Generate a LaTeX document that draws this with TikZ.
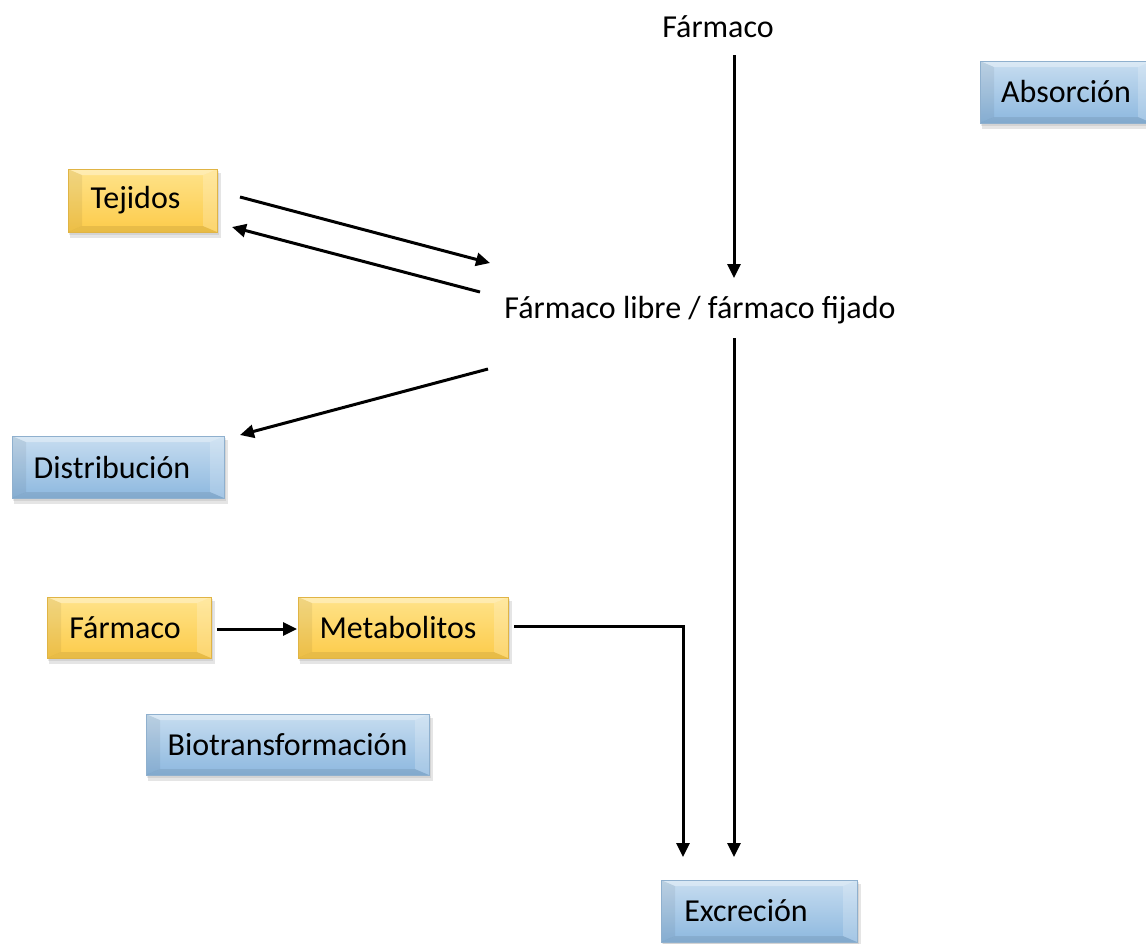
\documentclass[tikz,border=0pt]{standalone}
\usepackage{fontspec}
\setmainfont{Carlito}
\usetikzlibrary{arrows.meta,calc}
\definecolor{Ytop}{HTML}{FFE38A}
\definecolor{Ybot}{HTML}{FCCB4A}
\definecolor{Yedge}{HTML}{E0B445}
\definecolor{Btop}{HTML}{C7DDF0}
\definecolor{Bbot}{HTML}{8DB8DF}
\definecolor{Bedge}{HTML}{8FB0CE}
\tikzset{
  x=1pt,y=-1pt,
  lbl/.style={font=\fontsize{32}{38}\selectfont, inner sep=0pt},
  conn/.style={line width=3pt, -{Triangle[length=14pt,width=13pt]}},
}
% name, x1, y1, x2, y2, colour prefix (Y/B), text, text x-shift
\newcommand\bevbox[8]{%
  \fill[black, opacity=0.10] (#2+2,#3+4) rectangle (#4+4,#5+6);
  \fill[black, opacity=0.08] (#2+1,#3+2) rectangle (#4+2,#5+3);
  \shade[top color=#6top, bottom color=#6bot] (#2,#3) rectangle (#4,#5);
  \fill[white, opacity=0.35] (#2,#3) -- (#4,#3) -- (#4-14,#3+6) -- (#2+14,#3+6) -- cycle;
  \fill[black, opacity=0.06] (#2,#3) -- (#2+14,#3+6) -- (#2+14,#5-6) -- (#2,#5) -- cycle;
  \fill[white, opacity=0.20] (#4,#3) -- (#4-14,#3+6) -- (#4-14,#5-6) -- (#4,#5) -- cycle;
  \fill[black, opacity=0.08] (#2,#5) -- (#2+14,#5-6) -- (#4-14,#5-6) -- (#4,#5) -- cycle;
  \draw[#6edge, line width=0.8pt] (#2,#3) rectangle (#4,#5);
  \node[lbl, xshift=#8pt] (#1) at ($(#2,#3)!0.5!(#4,#5)$) {#7};
}
\begin{document}
\begin{tikzpicture}
\useasboundingbox (0,0) rectangle (1146,943);
\begin{scope}
\clip (0,0) rectangle (1146,943);
\bevbox{absorcion}{980}{61}{1152}{123}{B}{Absorción}{0}
\end{scope}
\bevbox{tejidos}{68}{169}{217}{232}{Y}{Tejidos}{-7}
\bevbox{distribucion}{12}{436}{224}{498}{B}{Distribución}{-6}
\bevbox{farmacoY}{47}{597}{211}{658}{Y}{Fármaco}{-4}
\bevbox{metabolitos}{298}{597}{508}{658}{Y}{Metabolitos}{-5}
\bevbox{biotrans}{146}{714}{429}{775}{B}{Biotransformación}{0}
\bevbox{excrecion}{661}{880}{857}{942}{B}{Excreción}{-13}

\node[lbl] (farmaco) at (718,27) {Fármaco};
\node[lbl] (libre) at (700,310) {Fármaco libre / fármaco fijado};

\coordinate (a1) at (734,55);
\coordinate (a2) at (734,278);
\coordinate (b1) at (734,338);
\coordinate (b2) at (734,857);
\coordinate (t1) at (240,197);
\coordinate (t2) at (490,263);
\coordinate (r1) at (480,292);
\coordinate (r2) at (232,227);
\coordinate (d1) at (488,369);
\coordinate (d2) at (240,435);
\coordinate (m1) at (217,629);
\coordinate (m2) at (297,629);
\coordinate (e1) at (514,626);
\coordinate (e2) at (683,626);
\coordinate (e3) at (683,857);

\draw[conn] (a1) -- (a2);
\draw[conn] (b1) -- (b2);
\draw[conn] (t1) -- (t2);
\draw[conn] (r1) -- (r2);
\draw[conn] (d1) -- (d2);
\draw[conn] (m1) -- (m2);
\draw[conn] (e1) -- (e2) -- (e3);
\end{tikzpicture}
\end{document}
